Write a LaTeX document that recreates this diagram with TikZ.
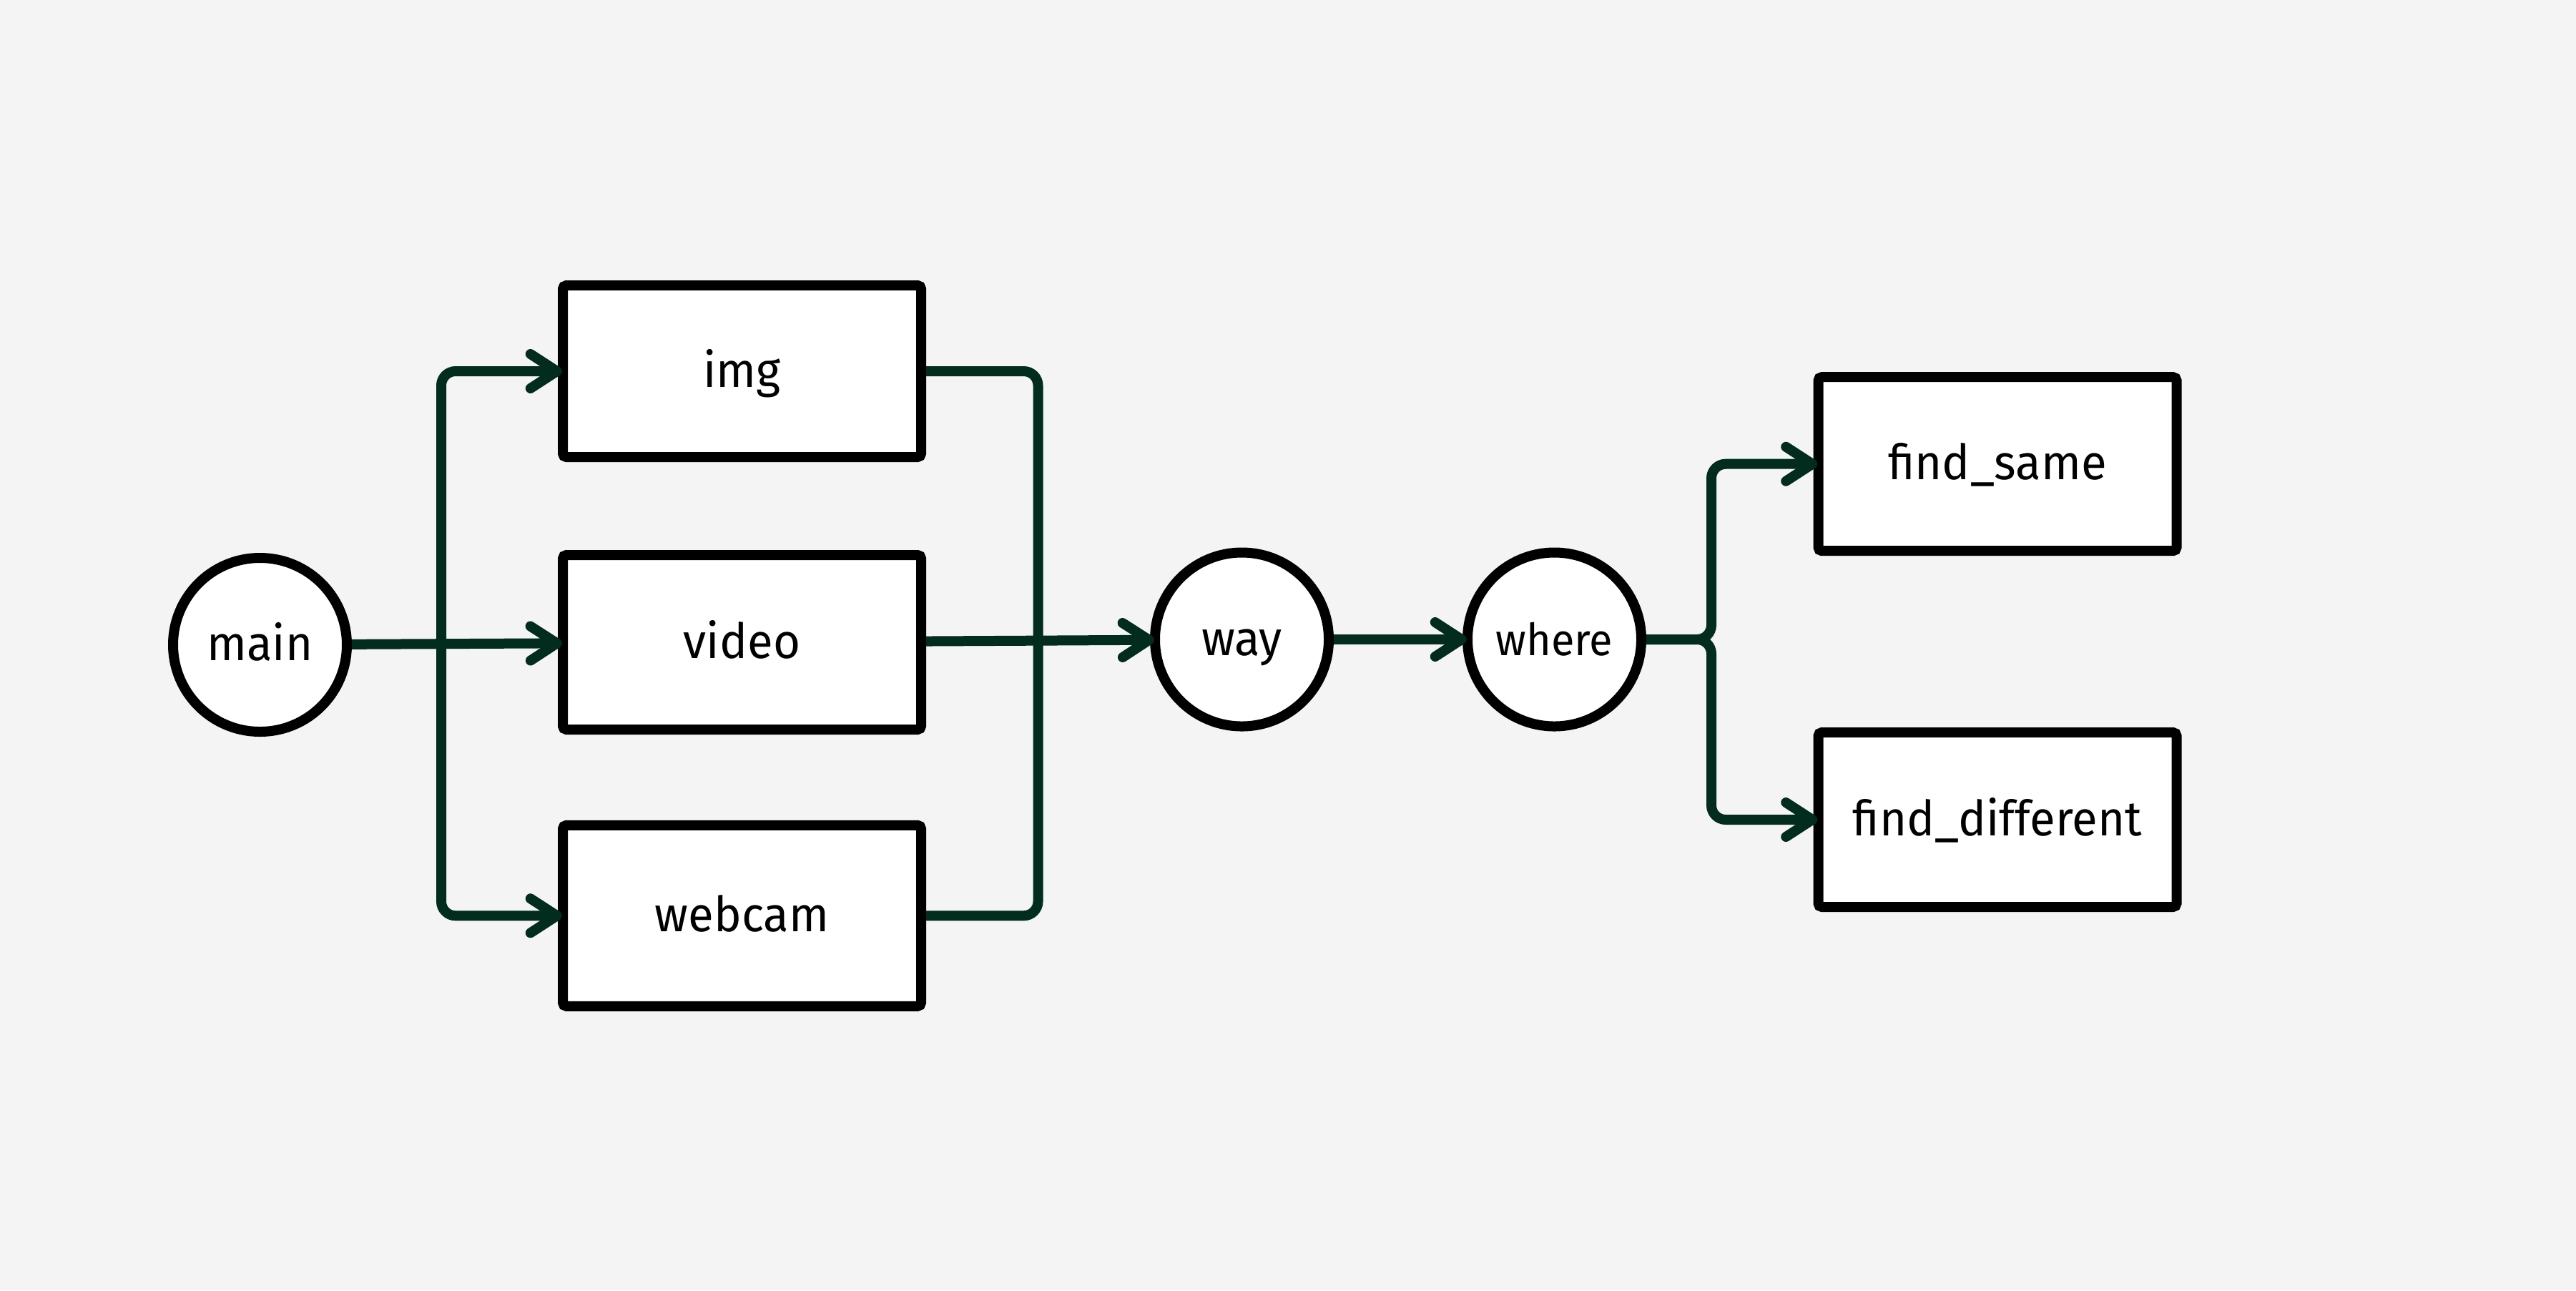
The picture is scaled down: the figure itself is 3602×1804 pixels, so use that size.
\documentclass[tikz,border=0pt]{standalone}
\usepackage{fontspec}
\setmainfont{Fira Sans}[FakeStretch=0.96]
\usetikzlibrary{arrows.meta}
\definecolor{bgc}{HTML}{F4F4F4}
\definecolor{conn}{HTML}{022D1E}
\begin{document}
\begin{tikzpicture}[x=0.2pt,y=-0.2pt,
  lbl/.style={text height=8.8pt, text depth=0pt, font=\fontsize{13.6}{16}\selectfont},
  box/.style={lbl, draw=black, line width=2.8pt, fill=white, rounded corners=1pt,
    minimum width=100.2pt, inner sep=0pt},
  circ/.style={lbl, circle, draw=black, line width=2.8pt, fill=white,
    minimum size=48.6pt, inner sep=0pt},
  link/.style={draw=conn, line width=2.8pt, rounded corners=4pt},
  arr/.style={-{Straight Barb[length=7.4pt,width=9.6pt,round]}, shorten >=-1.15pt}
]
\useasboundingbox (0,0) rectangle (3602,1804);
\fill[bgc] (0,0) rectangle (3602,1804);

\node[circ] (main) at (363.5,901.5) {main};
\node[box, minimum height=48pt] (img) at (1037.5,519) {img};
\node[box, minimum height=48.8pt] (video) at (1037.5,898) {video};
\node[box, minimum height=50.6pt] (webcam) at (1037.5,1280.3) {webcam};
\node[circ] (way) at (1736.5,894) {way};
\node[circ, font=\fontsize{12.4}{15}\selectfont] (where) at (2173.5,894) {where};
\node[box, minimum height=48.6pt] (fsame) at (2793,648.7) {find\_same};
\node[box, minimum height=48.8pt] (fdiff) at (2793,1146) {find\_different};

\coordinate (jL) at (617,900);
\coordinate (jR) at (1451.5,896);
\coordinate (jW) at (2393,894);

\draw[link,arr] (main) -- (video);
\draw[link,arr] (jL) |- (img.west);
\draw[link,arr] (jL) |- (webcam.west);
\draw[link] (img.east) -| (jR);
\draw[link] (webcam.east) -| (jR);
\draw[link,arr] (video) -- (way);
\draw[link,arr] (way) -- (where);
\draw[link,arr] (where.east) -- (jW) |- (fsame.west);
\draw[link,arr] (where.east) -- (jW) |- (fdiff.west);
\end{tikzpicture}
\end{document}
